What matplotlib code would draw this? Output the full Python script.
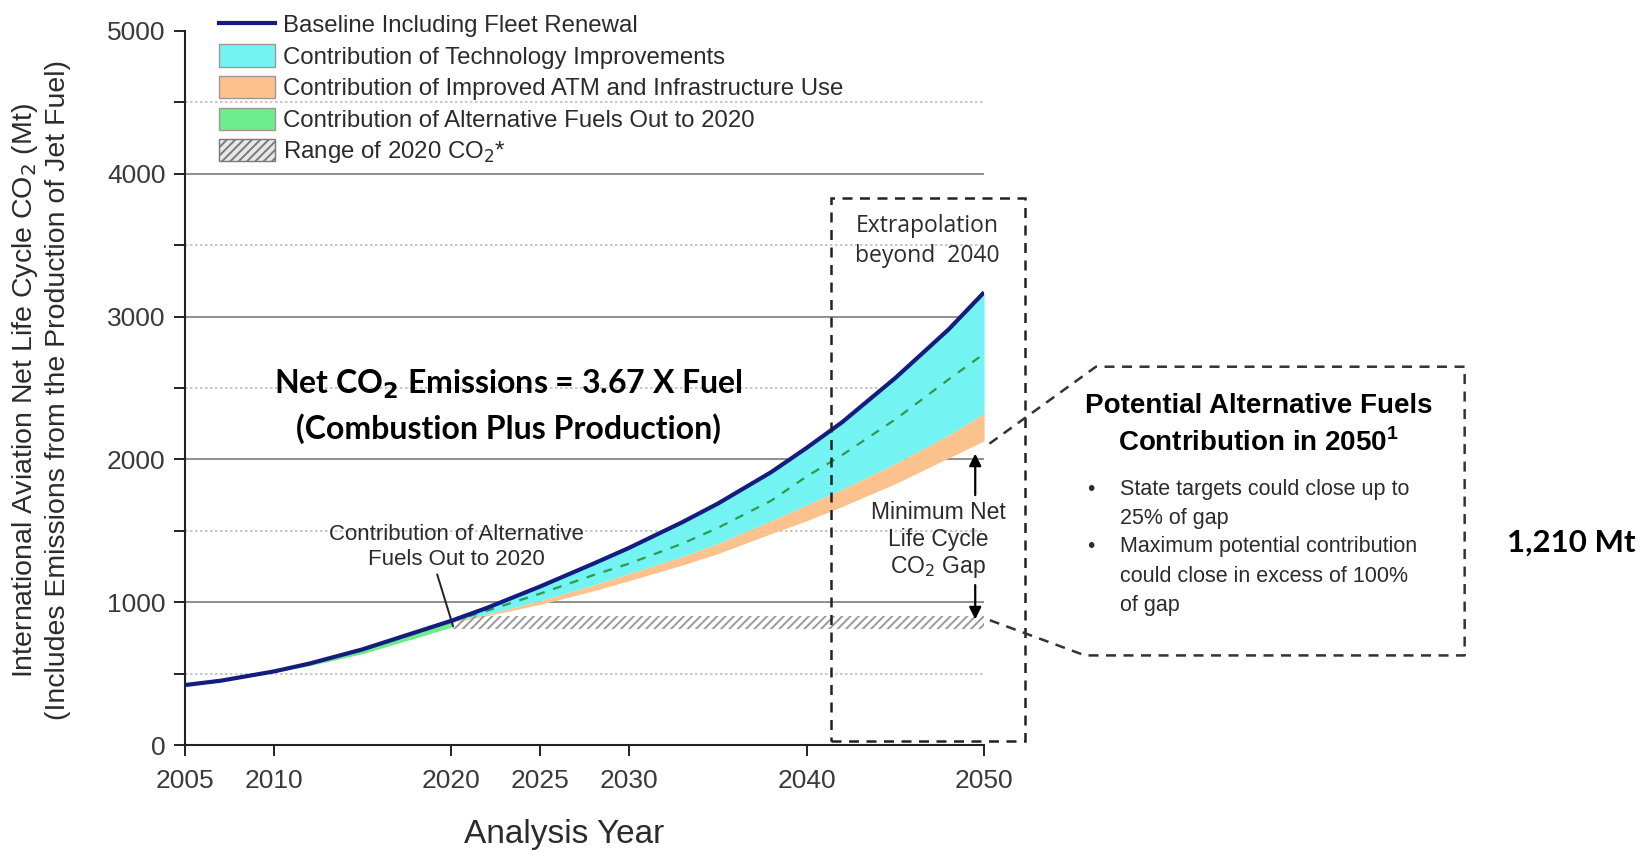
import matplotlib
matplotlib.use("Agg")
import matplotlib.pyplot as plt
import numpy as np
from matplotlib.patches import Patch, Rectangle
from matplotlib.lines import Line2D
from matplotlib.ticker import FixedLocator

plt.rcParams['font.family'] = ['Liberation Sans', 'DejaVu Sans']
plt.rcParams['hatch.linewidth'] = 1.4

# ---------------- data ----------------
years_base = [2005, 2007, 2010, 2012, 2015, 2018, 2020, 2022, 2025, 2028, 2030,
              2033, 2035, 2038, 2040, 2042, 2045, 2048, 2050]
baseline = [420, 450, 515, 570, 670, 790, 870, 960, 1110, 1270, 1380,
            1560, 1690, 1910, 2080, 2260, 2570, 2910, 3170]

years_tech = [2020, 2022, 2025, 2028, 2030, 2033, 2035, 2038, 2040, 2042, 2045, 2048, 2050]
tech_line = [866, 940, 1060, 1190, 1270, 1410, 1520, 1710, 1880, 2030, 2280, 2560, 2740]
atm_top = [862, 915, 1010, 1120, 1200, 1320, 1410, 1570, 1680, 1790, 1970, 2170, 2320]
atm_bottom = [858, 905, 985, 1080, 1150, 1260, 1340, 1480, 1570, 1670, 1830, 2010, 2130]

years_alt = [2010, 2012, 2015, 2018, 2020]
alt_lower = [510, 555, 640, 750, 825]

range_years = [2020, 2050]
range_low = 815
range_high = 900

x_ticks = [2005, 2010, 2020, 2025, 2030, 2040, 2050]
y_major = [0, 1000, 2000, 3000, 4000, 5000]
y_minor = [500, 1500, 2500, 3500, 4500]
legend_labels = ["Baseline Including Fleet Renewal",
                 "Contribution of Technology Improvements",
                 "Contribution of Improved ATM and Infrastructure Use",
                 "Contribution of Alternative Fuels Out to 2020",
                 "Range of 2020 CO$_2$*"]

NAVY = '#141c80'
CYAN = '#74f3f3'
ORANGE = '#fcc28e'
GREEN = '#6cec8a'
TXT = '#2b2b2b'

# ---------------- figure ----------------
fig = plt.figure(figsize=(16.52, 8.58), dpi=100)
ax = fig.add_axes([0.112, 0.1317, 0.4837, 0.8322])
ax.set_xlim(2005, 2050)
ax.set_ylim(0, 5000)

base_arr = np.array(baseline, dtype=float)
yb = np.array(years_base, dtype=float)
base_on_tech = np.interp(years_tech, yb, base_arr)
base_on_alt = np.interp(years_alt, yb, base_arr)

# fills
ax.fill_between(years_alt, alt_lower, base_on_alt, color=GREEN, lw=0, zorder=2)
ax.fill_between(years_tech, atm_top, base_on_tech, color=CYAN, lw=0, zorder=2)
ax.fill_between(years_tech, atm_bottom, atm_top, color=ORANGE, lw=0, zorder=2)
ax.fill_between(range_years, range_low, range_high, facecolor='none',
                edgecolor='#9a9a9a', hatch='////', lw=0, zorder=2)

ax.plot(years_tech, tech_line, color='#2e9a4a', lw=1.6, ls=(0, (4, 4)), zorder=3)
ax.plot(years_base, baseline, color=NAVY, lw=3, zorder=4, solid_capstyle='butt')

# axes styling
for s in ['top', 'right']:
    ax.spines[s].set_visible(False)
for s in ['left', 'bottom']:
    ax.spines[s].set_linewidth(1.5)
    ax.spines[s].set_color('#222222')
ax.set_xticks(x_ticks)
ax.yaxis.set_major_locator(FixedLocator(y_major))
ax.yaxis.set_minor_locator(FixedLocator(y_minor))
ax.tick_params(axis='both', which='both', direction='out', length=8, width=1.4,
               color='#222222')
ax.tick_params(axis='y', labelsize=19, labelcolor='#3a3a3a', pad=6)
ax.tick_params(axis='x', labelsize=19, labelcolor='#3a3a3a', pad=9)

ax.yaxis.grid(True, which='major', color='#8e8e8e', lw=1.4, zorder=0)
ax.yaxis.grid(True, which='minor', color='#bdbdbd', lw=1.2, ls=(0, (1.5, 1.5)), zorder=0)
ax.set_axisbelow(True)
mt = ax.yaxis.get_major_ticks()
mt[0].gridline.set_visible(False)
mt[len(y_major) - 1].gridline.set_visible(False)

ax.set_xlabel("Analysis Year", fontsize=24, color=TXT)
ax.xaxis.set_label_coords(0.474, -0.125)
ax.xaxis.label.set_va('center')

fig.text(0.0245, 0.545,
         "International Aviation Net Life Cycle CO$_2$ (Mt)\n(Includes Emissions from the Production of Jet Fuel)",
         rotation=90, ha='center', va='center', multialignment='center',
         fontsize=20.5, color=TXT, linespacing=1.22)

# legend
handles = [Line2D([], [], color=NAVY, lw=3),
           Patch(facecolor=CYAN, edgecolor='#9a9a9a', lw=1),
           Patch(facecolor=ORANGE, edgecolor='#9a9a9a', lw=1),
           Patch(facecolor=GREEN, edgecolor='#9a9a9a', lw=1),
           Patch(facecolor='#e8e8e8', edgecolor='#7a7a7a', hatch='////', lw=1)]
leg = fig.legend(handles, legend_labels, loc='upper left', bbox_to_anchor=(0.1255, 0.999),
                 frameon=False, fontsize=17.3, borderpad=0, handlelength=2.3,
                 handleheight=1.05, handletextpad=0.35, labelspacing=0.3)
for t in leg.get_texts():
    t.set_color(TXT)

# extrapolation box
ax.add_patch(Rectangle((2041.4, 30), 10.9, 3800, fill=False, ls=(0, (4, 3)),
                       lw=1.8, edgecolor='#222222', clip_on=False, zorder=5))
ax.text(2046.8, 3530, "Extrapolation\nbeyond  2040", ha='center', va='center',
        fontsize=16.5, color=TXT, family=['Open Sans', 'DejaVu Sans'], linespacing=1.3)

# annotation: alt fuels
ax.text(2020.3, 1385, "Contribution of Alternative\nFuels Out to 2020", ha='center',
        va='center', fontsize=16, color=TXT, linespacing=1.25)
ax.annotate("", xy=(2020.1, 830), xytext=(2019.2, 1195),
            arrowprops=dict(arrowstyle='-', color='#222222', lw=1.4,
                            shrinkA=0, shrinkB=0))

# gap annotation
ax.text(2047.4, 1431, "Minimum Net\nLife Cycle\nCO$_2$ Gap", ha='center', va='center',
        fontsize=16.5, color=TXT, linespacing=1.2)
ax.annotate("", xy=(2049.5, 2040), xytext=(2049.5, 1750),
            arrowprops=dict(arrowstyle='-|>', color='black', lw=1.6, mutation_scale=18,
                            shrinkA=0, shrinkB=0))
ax.annotate("", xy=(2049.5, 880), xytext=(2049.5, 1120),
            arrowprops=dict(arrowstyle='-|>', color='black', lw=1.6, mutation_scale=18,
                            shrinkA=0, shrinkB=0))

# big overlay text
fig.text(0.308, 0.5517, "Net CO$_\\mathbf{2}$ Emissions = 3.67 X Fuel", ha='center', va='center',
         fontsize=23, fontweight='bold', family=['Lato', 'DejaVu Sans'], color='black')
fig.text(0.308, 0.500, "(Combustion Plus Production)", ha='center', va='center',
         fontsize=23, fontweight='bold', family=['Lato', 'DejaVu Sans'], color='black')

# callout box
to_fig = ax.transData + fig.transFigure.inverted()
p_up = to_fig.transform((2050.3, 2110))
p_lo = to_fig.transform((2050.3, 875))
bx = [p_up[0], 0.6634, 0.8866, 0.8866, 0.6568, p_lo[0]]
by = [p_up[1], 0.5726, 0.5726, 0.2361, 0.2361, p_lo[1]]
fig.add_artist(Line2D(bx, by, transform=fig.transFigure, color='#333333', lw=1.8,
                      ls=(0, (4, 3))))

fig.text(0.762, 0.527, "Potential Alternative Fuels", ha='center', va='center',
         fontsize=20, fontweight='bold', color='black')
fig.text(0.762, 0.484, "Contribution in 2050$^{\\mathregular{1}}$", ha='center', va='center',
         fontsize=20, fontweight='bold', color='black')
bullet_y = [0.429, 0.363]
bullet_lines = [(0.429, "State targets could close up to"),
                (0.396, "25% of gap"),
                (0.363, "Maximum potential contribution"),
                (0.328, "could close in excess of 100%"),
                (0.294, "of gap")]
for yy in bullet_y:
    fig.text(0.660, yy, "•", ha='center', va='center', fontsize=15, color=TXT)
for yy, s in bullet_lines:
    fig.text(0.678, yy, s, ha='left', va='center', fontsize=15.5, color=TXT)

fig.text(0.951, 0.3675, "1,210 Mt", ha='center', va='center', fontsize=22.5,
         fontweight='bold', family=['Lato', 'DejaVu Sans'], color='black')

fig.savefig("out.png", dpi=100)
